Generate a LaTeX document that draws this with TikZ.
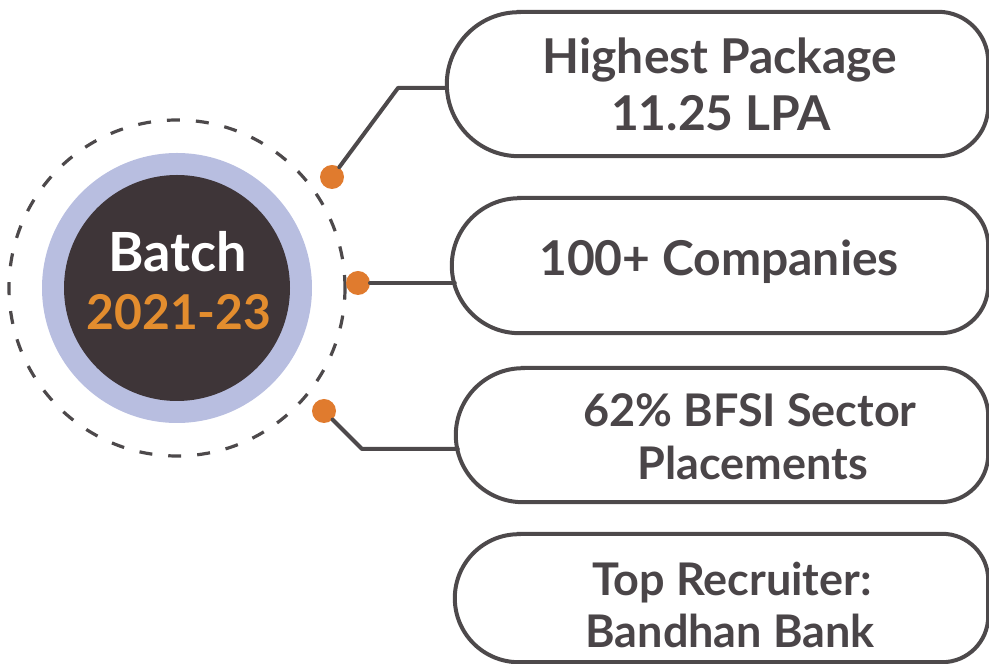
\documentclass[tikz,border=0pt]{standalone}
\usepackage{fontspec}
\setmainfont{Lato}
\usetikzlibrary{calc}
\definecolor{txtgray}{HTML}{4A4548}
\definecolor{linegray}{HTML}{4D494B}
\definecolor{darkcore}{HTML}{3E3538}
\definecolor{lavring}{HTML}{B8BEE0}
\definecolor{dotorange}{HTML}{E07B2E}
\definecolor{numorange}{HTML}{E38D2E}
\newcommand\pillpath[3]{%
  \draw[boxline] ($(#1.north west)+(#2,0)$) -- ($(#1.north east)+(-#3,0)$)
    arc[start angle=90,end angle=0,radius=#3pt]
    -- ($(#1.south east)+(0,#3)$)
    arc[start angle=0,end angle=-90,radius=#3pt]
    -- ($(#1.south west)+(#2,0)$)
    arc[start angle=270,end angle=90,radius=#2pt] -- cycle;}
\begin{document}
\begin{tikzpicture}[x=1pt,y=1pt,
  boxline/.style={draw=linegray, line width=4pt},
  conn/.style={draw=linegray, line width=4pt, line join=round, line cap=round},
  dot/.style={circle, fill=dotorange, minimum size=24pt, inner sep=0pt},
  holder/.style={rectangle, inner sep=0pt, draw=none},
  lbl/.style={text=txtgray, font=\bfseries\fontsize{48}{56}\selectfont, inner sep=0pt, anchor=base},
  lblsmall/.style={lbl, font=\bfseries\fontsize{45}{52}\selectfont},
]
\useasboundingbox (0,0) rectangle (989,664);
\clip (0,0) rectangle (989,664);
% central circle
\draw[linegray, line width=3.2pt, dash pattern=on 13pt off 16pt] (177,376) circle[radius=168pt];
\node[circle, fill=lavring, minimum size=270pt, inner sep=0pt] (ring) at (177,376) {};
\node[circle, fill=darkcore, minimum size=226pt, inner sep=0pt] (core) at (177,376) {};
\node[text=white, font=\bfseries\fontsize{54}{60}\selectfont, inner sep=0pt, anchor=base] (batch) at (177.5,392) {Batch};
\node[text=numorange, font=\bfseries\fontsize{48}{52}\selectfont, inner sep=0pt, anchor=base] (yrs) at (179,334) {2021-23};
% boxes
\node[holder, minimum width=541pt, minimum height=144pt] (b1) at (717.5,580) {};
\node[holder, minimum width=536pt, minimum height=135pt] (b2) at (720,398.5) {};
\node[holder, minimum width=532pt, minimum height=134pt] (b3) at (722,229) {};
\node[holder, minimum width=533pt, minimum height=128pt] (b4) at (721.5,66) {};
\pillpath{b1}{72}{50}
\pillpath{b2}{67.5}{48}
\pillpath{b3}{67}{48}
\pillpath{b4}{64}{46}
% texts
\node[lbl] (t1a) at (720,590) {Highest Package};
\node[lbl] (t1b) at (721,533) {11.25 LPA};
\node[lbl] (t2) at (719,388) {100+ Companies};
\node[lblsmall] (t3a) at (750,237) {62\% BFSI Sector};
\node[lblsmall] (t3b) at (753,184) {Placements};
\node[lblsmall] (t4a) at (732,68) {Top Recruiter:};
\node[lblsmall] (t4b) at (730,16) {Bandhan Bank};
% dots and connectors
\node[dot] (d1) at (332,487) {};
\node[dot] (d2) at (358,381) {};
\node[dot] (d3) at (324,253) {};
\coordinate (k1) at (398,576);
\coordinate (k3) at (362,215);
\draw[conn] (d1) -- (k1) -- (b1.west |- k1);
\draw[conn] ($(d2.center)+(12,0)$) -- ([xshift=3pt]b2.west |- d2.center);
\draw[conn] (d3) -- (k3) -- ([xshift=2pt]b3.west |- k3);
\end{tikzpicture}
\end{document}
